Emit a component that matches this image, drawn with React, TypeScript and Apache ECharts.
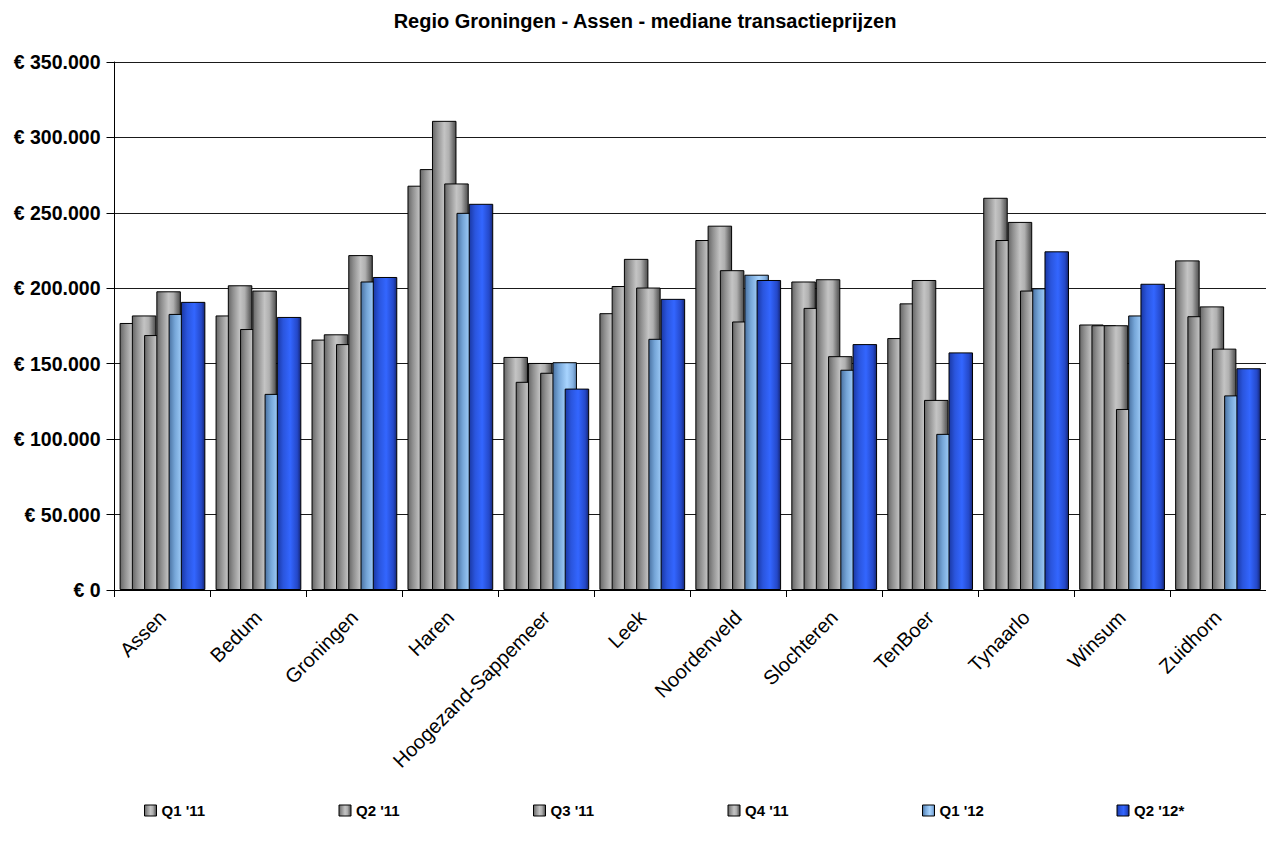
import React, { useEffect, useRef } from "react";
import * as echarts from "echarts";

const categories = [
  "Assen",
  "Bedum",
  "Groningen",
  "Haren",
  "Hoogezand-Sappemeer",
  "Leek",
  "Noordenveld",
  "Slochteren",
  "TenBoer",
  "Tynaarlo",
  "Winsum",
  "Zuidhorn",
];

const seriesNames = ["Q1 '11", "Q2 '11", "Q3 '11", "Q4 '11", "Q1 '12", "Q2 '12*"];

// values in thousands of euros
const q1_11 = [177, 182, 166, 268, 154.5, 183.5, 232, 204.5, 167, 260, 176, 218.5];
const q2_11 = [182, 202, 169.5, 279, 138, 201.5, 241.5, 187, 190, 232, 175.5, 181.5];
const q3_11 = [169, 173, 163, 311, 150.5, 219.5, 212, 206, 205.5, 244, 175.5, 188];
const q4_11 = [198, 198.5, 222, 269.5, 144, 200.5, 178, 155, 126, 198.5, 120, 160];
const q1_12 = [183, 130, 204.5, 250, 151, 166.5, 209, 146, 103.5, 200, 182, 129];
const q2_12 = [191, 181, 207.5, 256, 133.5, 193, 205.5, 163, 157.5, 224.5, 203, 147];

const yTicks = [0, 50000, 100000, 150000, 200000, 250000, 300000, 350000];

const FONT = "Arial, 'Liberation Sans', sans-serif";

const grad = (stops: [number, string][]) => ({
  type: "linear",
  x: 0,
  y: 0,
  x2: 1,
  y2: 0,
  colorStops: stops.map(([offset, color]) => ({ offset, color })),
});

const grayGrad = grad([
  [0, "#666666"],
  [0.2, "#8f8f8f"],
  [0.5, "#c4c4c4"],
  [0.7, "#b0b0b0"],
  [0.9, "#6c6c6c"],
  [1, "#505050"],
]);
const lightBlueGrad = grad([
  [0, "#4a72a2"],
  [0.25, "#76a6d8"],
  [0.6, "#a8d4ff"],
  [0.85, "#86b2e2"],
  [1, "#5880ae"],
]);
const blueGrad = grad([
  [0, "#1a38a4"],
  [0.25, "#2a55dd"],
  [0.55, "#3366ff"],
  [0.85, "#2448c8"],
  [1, "#152676"],
]);

const fillFor = [grayGrad, grayGrad, grayGrad, grayGrad, lightBlueGrad, blueGrad];
const dataSets = [q1_11, q2_11, q3_11, q4_11, q1_12, q2_12];

const fmt = (v: number) => {
  if (v === 0) return "€ 0";
  const s = Math.round(v).toString();
  return "€ " + s.replace(/\B(?=(\d{3})+(?!\d))/g, ".");
};

export default function App() {
  const ref = useRef<HTMLDivElement>(null);
  useEffect(() => {
    if (!ref.current) return;
    const chart = echarts.init(ref.current, undefined, { renderer: "svg" });
    const legendLeft0 = 139;
    const legendStep = 194.5;
    const option: any = {
      animation: false,
      backgroundColor: "#ffffff",
      title: {
        text: "Regio Groningen - Assen - mediane transactieprijzen",
        left: 640,
        textAlign: "center",
        top: 6,
        textStyle: { fontFamily: FONT, fontSize: 20, fontWeight: "bold", color: "#000" },
      },
      legend: seriesNames.map((n, i) => ({
        data: [n],
        left: legendLeft0 + legendStep * i,
        top: 798,
        itemWidth: 12,
        itemHeight: 11,
        itemGap: 4,
        icon: "rect",
        selectedMode: false,
        textStyle: { fontFamily: FONT, fontSize: 15, fontWeight: "bold", color: "#000" },
        itemStyle: { borderColor: "#000", borderWidth: 1 },
      })),
      grid: { left: 114.5, top: 62, height: 528, right: -11.5 },
      xAxis: {
        type: "category",
        data: categories,
        axisLine: { show: true, lineStyle: { color: "#000", width: 1 } },
        axisTick: { show: true, alignWithLabel: false, length: 7, lineStyle: { color: "#000" } },
        axisLabel: {
          interval: 0,
          rotate: 45,
          margin: 24,
          fontFamily: FONT,
          fontSize: 20,
          color: "#000",
        },
      },
      yAxis: {
        type: "value",
        min: 0,
        max: yTicks[yTicks.length - 1],
        interval: yTicks[1] - yTicks[0],
        axisLine: { show: true, lineStyle: { color: "#000", width: 1 } },
        axisTick: { show: true, length: 8, lineStyle: { color: "#000" } },
        axisLabel: {
          margin: 14,
          formatter: (v: number) => fmt(v),
          fontFamily: FONT,
          fontSize: 19.5,
          fontWeight: "bold",
          color: "#000",
        },
        splitLine: { show: true, lineStyle: { color: "#1a1a1a", width: 1 } },
      },
      series: dataSets.map((d, i) => ({
        name: seriesNames[i],
        type: "bar",
        data: d.map((v) => v * 1000),
        barWidth: 24.5,
        barGap: "-50%",
        itemStyle: { color: fillFor[i], borderColor: "#000", borderWidth: 1 },
        emphasis: { disabled: true },
      })),
    };
    chart.setOption(option);
    return () => chart.dispose();
  }, []);
  return (
    <div
      ref={ref}
      style={{ position: "absolute", left: 0, top: 0, width: 1266, height: 844, background: "#fff" }}
    />
  );
}
